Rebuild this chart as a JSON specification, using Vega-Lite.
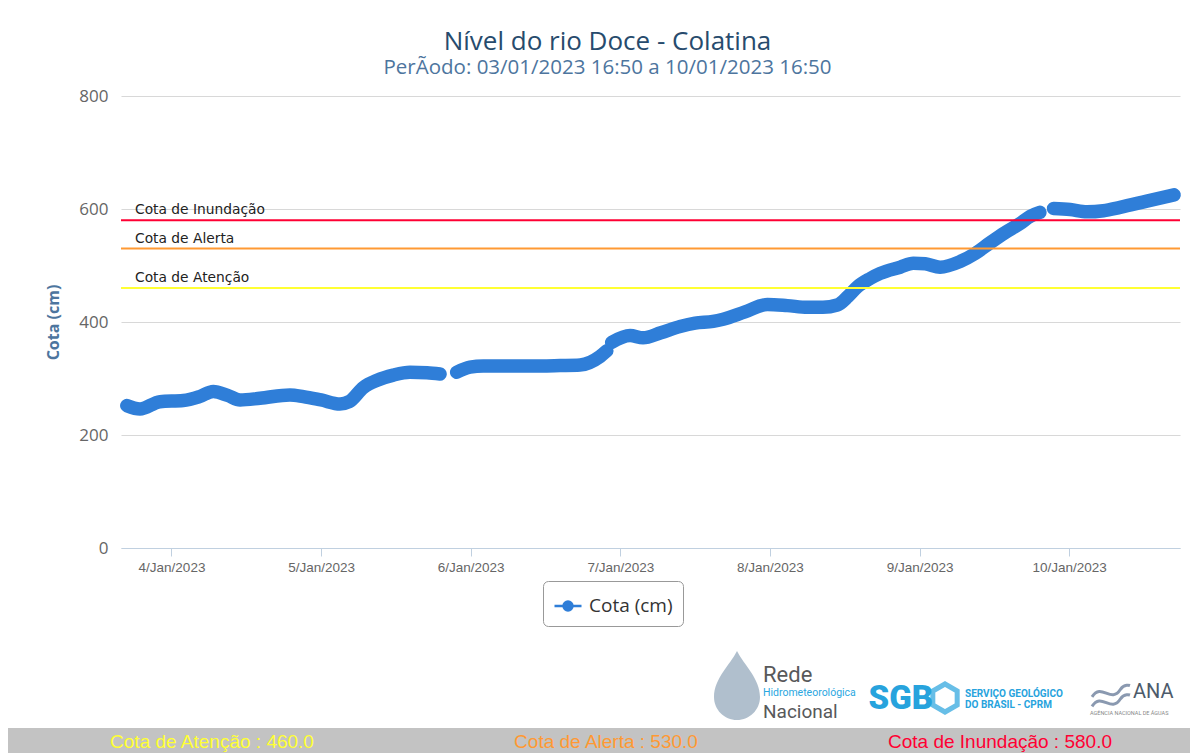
{
  "$schema": "https://vega.github.io/schema/vega-lite/v6.json",
  "background": "white",
  "padding": {"left": 8, "top": 28, "right": 0, "bottom": 0},
  "spacing": 5,
  "columns": 1,
  "align": "none",
  "config": {"view": {"stroke": null}, "font": "Open Sans"},
  "datasets": {
    "niveis": [
      {"nivel": "Cota de Atenção", "valor": 460, "rotulo": "Cota de Atenção : 460.0"},
      {"nivel": "Cota de Alerta", "valor": 530, "rotulo": "Cota de Alerta : 530.0"},
      {"nivel": "Cota de Inundação", "valor": 580, "rotulo": "Cota de Inundação : 580.0"}
    ],
    "cota": [
      {"t": "2023-01-03T16:50", "cota": 252, "seg": 1, "serie": "Cota (cm)"},
      {"t": "2023-01-03T18:57", "cota": 246, "seg": 1, "serie": "Cota (cm)"},
      {"t": "2023-01-03T22:09", "cota": 259, "seg": 1, "serie": "Cota (cm)"},
      {"t": "2023-01-04T01:53", "cota": 261, "seg": 1, "serie": "Cota (cm)"},
      {"t": "2023-01-04T04:30", "cota": 268, "seg": 1, "serie": "Cota (cm)"},
      {"t": "2023-01-04T06:42", "cota": 277, "seg": 1, "serie": "Cota (cm)"},
      {"t": "2023-01-04T09:00", "cota": 270, "seg": 1, "serie": "Cota (cm)"},
      {"t": "2023-01-04T11:00", "cota": 262, "seg": 1, "serie": "Cota (cm)"},
      {"t": "2023-01-04T14:12", "cota": 265, "seg": 1, "serie": "Cota (cm)"},
      {"t": "2023-01-04T19:00", "cota": 271, "seg": 1, "serie": "Cota (cm)"},
      {"t": "2023-01-04T21:09", "cota": 268, "seg": 1, "serie": "Cota (cm)"},
      {"t": "2023-01-05T00:00", "cota": 262, "seg": 1, "serie": "Cota (cm)"},
      {"t": "2023-01-05T03:02", "cota": 255, "seg": 1, "serie": "Cota (cm)"},
      {"t": "2023-01-05T04:30", "cota": 259, "seg": 1, "serie": "Cota (cm)"},
      {"t": "2023-01-05T06:46", "cota": 284, "seg": 1, "serie": "Cota (cm)"},
      {"t": "2023-01-05T09:00", "cota": 297, "seg": 1, "serie": "Cota (cm)"},
      {"t": "2023-01-05T11:35", "cota": 306, "seg": 1, "serie": "Cota (cm)"},
      {"t": "2023-01-05T14:15", "cota": 311, "seg": 1, "serie": "Cota (cm)"},
      {"t": "2023-01-05T17:00", "cota": 310, "seg": 1, "serie": "Cota (cm)"},
      {"t": "2023-01-05T19:05", "cota": 308, "seg": 1, "serie": "Cota (cm)"},
      {"t": "2023-01-05T21:45", "cota": 311, "seg": 2, "serie": "Cota (cm)"},
      {"t": "2023-01-05T23:53", "cota": 320, "seg": 2, "serie": "Cota (cm)"},
      {"t": "2023-01-06T02:00", "cota": 322, "seg": 2, "serie": "Cota (cm)"},
      {"t": "2023-01-06T04:42", "cota": 322, "seg": 2, "serie": "Cota (cm)"},
      {"t": "2023-01-06T09:30", "cota": 322, "seg": 2, "serie": "Cota (cm)"},
      {"t": "2023-01-06T14:20", "cota": 323, "seg": 2, "serie": "Cota (cm)"},
      {"t": "2023-01-06T17:32", "cota": 324, "seg": 2, "serie": "Cota (cm)"},
      {"t": "2023-01-06T20:45", "cota": 339, "seg": 2, "serie": "Cota (cm)"},
      {"t": "2023-01-06T21:50", "cota": 349, "seg": 2, "serie": "Cota (cm)"},
      {"t": "2023-01-06T22:37", "cota": 364, "seg": 3, "serie": "Cota (cm)"},
      {"t": "2023-01-07T01:34", "cota": 376, "seg": 3, "serie": "Cota (cm)"},
      {"t": "2023-01-07T03:39", "cota": 372, "seg": 3, "serie": "Cota (cm)"},
      {"t": "2023-01-07T06:30", "cota": 381, "seg": 3, "serie": "Cota (cm)"},
      {"t": "2023-01-07T09:35", "cota": 392, "seg": 3, "serie": "Cota (cm)"},
      {"t": "2023-01-07T12:00", "cota": 398, "seg": 3, "serie": "Cota (cm)"},
      {"t": "2023-01-07T14:53", "cota": 401, "seg": 3, "serie": "Cota (cm)"},
      {"t": "2023-01-07T16:30", "cota": 405, "seg": 3, "serie": "Cota (cm)"},
      {"t": "2023-01-07T20:00", "cota": 418, "seg": 3, "serie": "Cota (cm)"},
      {"t": "2023-01-07T23:36", "cota": 431, "seg": 3, "serie": "Cota (cm)"},
      {"t": "2023-01-08T02:48", "cota": 429, "seg": 3, "serie": "Cota (cm)"},
      {"t": "2023-01-08T06:00", "cota": 426, "seg": 3, "serie": "Cota (cm)"},
      {"t": "2023-01-08T08:30", "cota": 426, "seg": 3, "serie": "Cota (cm)"},
      {"t": "2023-01-08T10:48", "cota": 430, "seg": 3, "serie": "Cota (cm)"},
      {"t": "2023-01-08T12:30", "cota": 445, "seg": 3, "serie": "Cota (cm)"},
      {"t": "2023-01-08T14:00", "cota": 462, "seg": 3, "serie": "Cota (cm)"},
      {"t": "2023-01-08T16:05", "cota": 477, "seg": 3, "serie": "Cota (cm)"},
      {"t": "2023-01-08T17:42", "cota": 486, "seg": 3, "serie": "Cota (cm)"},
      {"t": "2023-01-08T20:54", "cota": 497, "seg": 3, "serie": "Cota (cm)"},
      {"t": "2023-01-08T23:00", "cota": 504, "seg": 3, "serie": "Cota (cm)"},
      {"t": "2023-01-09T00:55", "cota": 503, "seg": 3, "serie": "Cota (cm)"},
      {"t": "2023-01-09T03:18", "cota": 497, "seg": 3, "serie": "Cota (cm)"},
      {"t": "2023-01-09T06:30", "cota": 507, "seg": 3, "serie": "Cota (cm)"},
      {"t": "2023-01-09T08:54", "cota": 521, "seg": 3, "serie": "Cota (cm)"},
      {"t": "2023-01-09T11:18", "cota": 540, "seg": 3, "serie": "Cota (cm)"},
      {"t": "2023-01-09T13:42", "cota": 558, "seg": 3, "serie": "Cota (cm)"},
      {"t": "2023-01-09T16:06", "cota": 574, "seg": 3, "serie": "Cota (cm)"},
      {"t": "2023-01-09T17:45", "cota": 587, "seg": 3, "serie": "Cota (cm)"},
      {"t": "2023-01-09T19:18", "cota": 594, "seg": 3, "serie": "Cota (cm)"},
      {"t": "2023-01-09T21:30", "cota": 601, "seg": 4, "serie": "Cota (cm)"},
      {"t": "2023-01-10T00:10", "cota": 599, "seg": 4, "serie": "Cota (cm)"},
      {"t": "2023-01-10T02:50", "cota": 595, "seg": 4, "serie": "Cota (cm)"},
      {"t": "2023-01-10T05:30", "cota": 597, "seg": 4, "serie": "Cota (cm)"},
      {"t": "2023-01-10T08:10", "cota": 603, "seg": 4, "serie": "Cota (cm)"},
      {"t": "2023-01-10T12:28", "cota": 614, "seg": 4, "serie": "Cota (cm)"},
      {"t": "2023-01-10T16:50", "cota": 625, "seg": 4, "serie": "Cota (cm)"}
    ]
  },
  "concat": [
    {
      "width": 1059,
      "height": 452,
      "title": {
        "text": "Nível do rio Doce - Colatina",
        "subtitle": "PerÃodo: 03/01/2023 16:50 a 10/01/2023 16:50",
        "anchor": "middle",
        "dx": -43,
        "font": "Open Sans",
        "fontSize": 26,
        "fontWeight": "normal",
        "color": "#274b6d",
        "subtitleFont": "Open Sans",
        "subtitleFontSize": 20.5,
        "subtitleColor": "#4d759e",
        "subtitlePadding": 3,
        "offset": 9
      },
      "layer": [
        {
          "data": {"name": "cota"},
          "mark": {"type": "line", "strokeWidth": 13.5, "strokeCap": "round", "strokeJoin": "round", "interpolate": "monotone"},
          "encoding": {
            "x": {
              "field": "t",
              "type": "temporal",
              "scale": {"domain": [{"year": 2023, "month": 1, "date": 3, "hours": 15, "minutes": 54}, {"year": 2023, "month": 1, "date": 10, "hours": 17, "minutes": 47}]},
              "axis": {
                "title": null,
                "format": "%-d/%b/%Y",
                "tickCount": {"interval": "day", "step": 1},
                "grid": false,
                "domainColor": "#c0d0e0",
                "tickColor": "#c0d0e0",
                "tickSize": 8,
                "labelFont": "Liberation Sans",
                "labelFontSize": 13.5,
                "labelColor": "#666666",
                "labelPadding": 4,
                "labelFlush": false,
                "labelOverlap": false
              }
            },
            "y": {
              "field": "cota",
              "type": "quantitative",
              "scale": {"domain": [0, 800]},
              "axis": {
                "values": [0, 200, 400, 600, 800],
                "title": "Cota (cm)",
                "titleFont": "Open Sans",
                "titleFontSize": 16,
                "titleFontWeight": "bold",
                "titleColor": "#4d759e",
                "titlePadding": 13,
                "minExtent": 47,
                "maxExtent": 47,
                "domain": false,
                "ticks": false,
                "labelFont": "Open Sans",
                "labelFontSize": 17,
                "labelColor": "#666666",
                "labelPadding": 13,
                "gridColor": "#d8d8d8",
                "gridWidth": 1.2
              }
            },
            "detail": {"field": "seg", "type": "nominal"},
            "color": {
              "field": "serie",
              "type": "nominal",
              "scale": {"range": ["#2f7ed8"]},
              "legend": {
                "title": null,
                "orient": "none",
                "legendX": 422,
                "legendY": 485,
                "strokeColor": "#999999",
                "cornerRadius": 5,
                "padding": 10,
                "fillColor": "white",
                "labelFont": "Open Sans",
                "labelFontSize": 19,
                "labelColor": "#333333",
                "labelOffset": 6,
                "symbolType": "M-1,0L1,0M0.33,0A0.33,0.33,0,1,1,-0.33,0A0.33,0.33,0,1,1,0.33,0Z",
                "symbolSize": 729,
                "symbolStrokeWidth": 2.5,
                "symbolFillColor": "#2f7ed8",
                "symbolStrokeColor": "#2f7ed8"
              }
            }
          }
        },
        {
          "data": {"name": "niveis"},
          "mark": {"type": "rule", "strokeWidth": 2},
          "encoding": {
            "y": {"field": "valor", "type": "quantitative"},
            "color": {
              "field": "nivel",
              "type": "nominal",
              "scale": {"domain": ["Cota de Atenção", "Cota de Alerta", "Cota de Inundação"], "range": ["#ffff33", "#ff9933", "#ff0033"]},
              "legend": null
            }
          }
        },
        {
          "data": {"name": "niveis"},
          "mark": {"type": "text", "align": "left", "baseline": "alphabetic", "dx": 14, "dy": -6, "font": "DejaVu Sans", "fontSize": 13.8, "color": "#222222"},
          "encoding": {
            "x": {"datum": {"year": 2023, "month": 1, "date": 3, "hours": 15, "minutes": 54}, "type": "temporal"},
            "y": {"field": "valor", "type": "quantitative"},
            "text": {"field": "nivel"}
          }
        }
      ],
      "resolve": {"scale": {"color": "independent"}}
    },
    {
      "width": 1069,
      "height": 91,
      "layer": [
        {
          "data": {"values": [{"logo": "rede", "t": "gota"}]},
          "mark": {"type": "point", "filled": true, "shape": "M0,-1.5C0.3,-0.9,1,-0.3,1,0.5A1,1,0,0,1,-1,0.5C-1,-0.3,-0.3,-0.9,0,-1.5Z", "size": 2116, "color": "#4f7291", "opacity": 0.45},
          "encoding": {
            "x": {"field": "logo", "type": "nominal", "scale": {"type": "point", "domain": ["rede", "sgb", "ana"], "range": [642, 1012], "padding": 0}, "axis": null},
            "xOffset": {"value": -26},
            "yOffset": {"value": 8}
          }
        },
        {
          "data": {"values": [{"logo": "rede", "t": "Rede"}]},
          "mark": {"type": "text", "align": "left", "baseline": "alphabetic", "dy": 4.5, "font": "Roboto", "fontSize": 22, "color": "#58595b"},
          "encoding": {"x": {"field": "logo", "type": "nominal", "axis": null}, "text": {"field": "t"}}
        },
        {
          "data": {"values": [{"logo": "rede", "t": "Hidrometeorológica"}]},
          "mark": {"type": "text", "align": "left", "baseline": "alphabetic", "dy": 18.5, "font": "Roboto", "fontSize": 10.5, "color": "#2aa7df"},
          "encoding": {"x": {"field": "logo", "type": "nominal", "axis": null}, "text": {"field": "t"}}
        },
        {
          "data": {"values": [{"logo": "rede", "t": "Nacional"}]},
          "mark": {"type": "text", "align": "left", "baseline": "alphabetic", "dy": 40.5, "font": "Roboto", "fontSize": 19, "color": "#58595b"},
          "encoding": {"x": {"field": "logo", "type": "nominal", "axis": null}, "text": {"field": "t"}}
        },
        {
          "data": {"values": [{"logo": "sgb", "t": "SGB"}]},
          "mark": {"type": "text", "align": "right", "baseline": "alphabetic", "dx": -15, "dy": 31.5, "font": "Roboto", "fontSize": 33, "fontWeight": 900, "color": "#27a3dd"},
          "encoding": {"x": {"field": "logo", "type": "nominal", "axis": null}, "text": {"field": "t"}}
        },
        {
          "data": {"values": [{"logo": "sgb", "t": "hex"}]},
          "mark": {"type": "point", "filled": false, "shape": "M0,-1L0.87,-0.5L0.87,0.5L0,1L-0.87,0.5L-0.87,-0.5Z", "size": 784, "stroke": "#27a3dd", "strokeWidth": 5},
          "encoding": {"x": {"field": "logo", "type": "nominal", "axis": null}, "xOffset": {"value": -3}, "yOffset": {"value": 20.5}}
        },
        {
          "data": {"values": [{"logo": "sgb", "t": "SERVIÇO GEOLÓGICO"}]},
          "mark": {"type": "text", "align": "left", "baseline": "alphabetic", "dx": 17, "dy": 19, "font": "Roboto", "fontSize": 10, "fontWeight": "bold", "color": "#27a3dd"},
          "encoding": {"x": {"field": "logo", "type": "nominal", "axis": null}, "text": {"field": "t"}}
        },
        {
          "data": {"values": [{"logo": "sgb", "t": "DO BRASIL - CPRM"}]},
          "mark": {"type": "text", "align": "left", "baseline": "alphabetic", "dx": 17, "dy": 30.5, "font": "Roboto", "fontSize": 10, "fontWeight": "bold", "color": "#27a3dd"},
          "encoding": {"x": {"field": "logo", "type": "nominal", "axis": null}, "text": {"field": "t"}}
        },
        {
          "data": {"values": [{"logo": "ana", "t": "ondas"}]},
          "mark": {"type": "point", "filled": false, "shape": "M-1,0.1C-0.5,-0.7,0,0.5,0.5,-0.3C0.7,-0.6,1,-0.5,1,-0.5M-1,0.6C-0.5,-0.2,0,1,0.5,0.2C0.7,-0.1,1,0,1,0", "size": 1444, "stroke": "#5a6f8f", "strokeWidth": 3},
          "encoding": {"x": {"field": "logo", "type": "nominal", "axis": null}, "xOffset": {"value": -22}, "yOffset": {"value": 17.5}}
        },
        {
          "data": {"values": [{"logo": "ana", "t": "ANA"}]},
          "mark": {"type": "text", "align": "left", "baseline": "alphabetic", "dy": 20.5, "font": "Roboto", "fontSize": 20, "color": "#4d5b6b"},
          "encoding": {"x": {"field": "logo", "type": "nominal", "axis": null}, "text": {"field": "t"}}
        },
        {
          "data": {"values": [{"logo": "ana", "t": "AGÊNCIA NACIONAL DE ÁGUAS"}]},
          "mark": {"type": "text", "align": "left", "baseline": "alphabetic", "dx": -43, "dy": 37.5, "font": "Roboto", "fontSize": 5.5, "color": "#888888"},
          "encoding": {"x": {"field": "logo", "type": "nominal", "axis": null}, "text": {"field": "t"}}
        }
      ]
    },
    {
      "width": 1069,
      "height": 25,
      "data": {"name": "niveis"},
      "layer": [
        {
          "mark": {"type": "bar", "color": "#c3c3c3"},
          "encoding": {
            "x": {"field": "rotulo", "type": "nominal", "sort": null, "scale": {"type": "band", "domain": ["Cota de Atenção : 460.0", "Cota de Alerta : 530.0", "Cota de Inundação : 580.0"], "range": [-113, 1069], "paddingInner": 0, "paddingOuter": 0}, "axis": null}
          }
        },
        {
          "mark": {"type": "text", "font": "Liberation Sans", "fontSize": 19, "baseline": "middle", "dx": 7, "dy": 1.5},
          "encoding": {
            "x": {"field": "rotulo", "type": "nominal", "sort": null, "axis": null},
            "text": {"field": "rotulo"},
            "color": {
              "field": "nivel",
              "type": "nominal",
              "scale": {"domain": ["Cota de Atenção", "Cota de Alerta", "Cota de Inundação"], "range": ["#ffff33", "#ff9933", "#ff0033"]},
              "legend": null
            }
          }
        }
      ]
    }
  ]
}
